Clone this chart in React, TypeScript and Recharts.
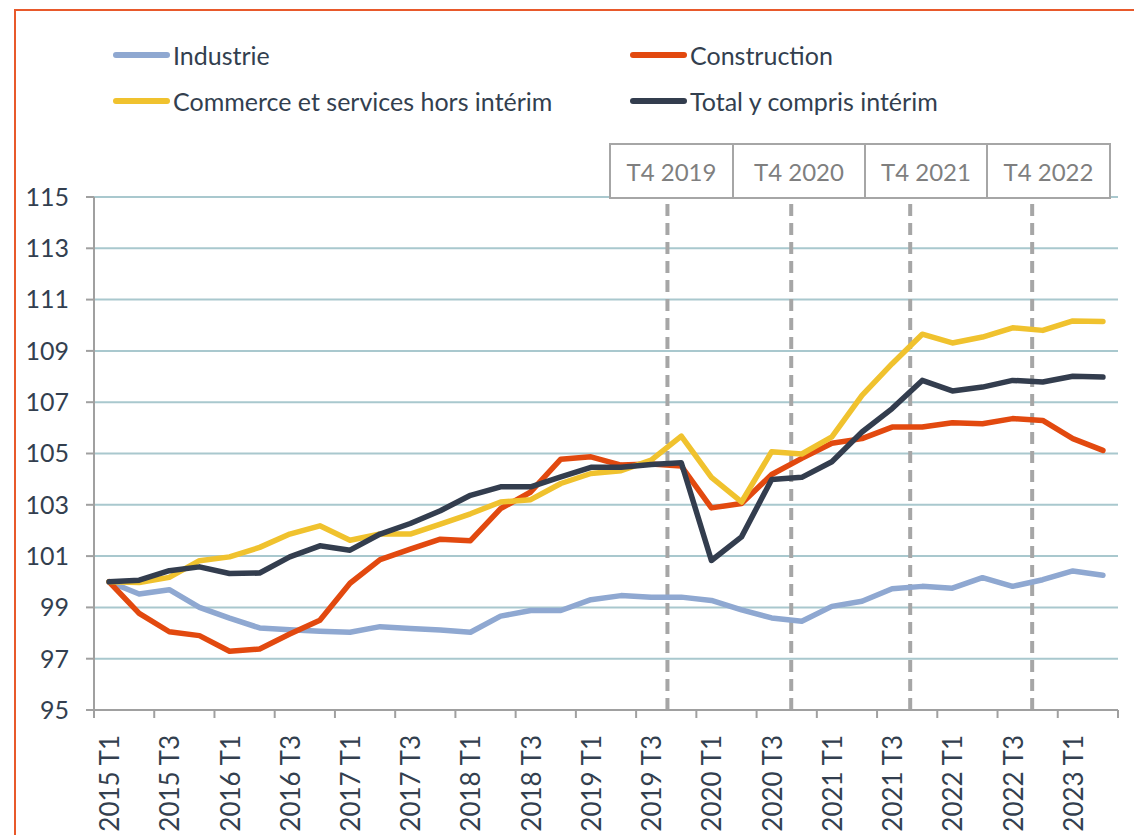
import React from 'react';
import { LineChart, Line, XAxis, YAxis, CartesianGrid, ReferenceLine, Legend } from 'recharts';

const quarters = [
  '2015 T1', '2015 T2', '2015 T3', '2015 T4',
  '2016 T1', '2016 T2', '2016 T3', '2016 T4',
  '2017 T1', '2017 T2', '2017 T3', '2017 T4',
  '2018 T1', '2018 T2', '2018 T3', '2018 T4',
  '2019 T1', '2019 T2', '2019 T3', '2019 T4',
  '2020 T1', '2020 T2', '2020 T3', '2020 T4',
  '2021 T1', '2021 T2', '2021 T3', '2021 T4',
  '2022 T1', '2022 T2', '2022 T3', '2022 T4',
  '2023 T1', '2023 T2',
];

const industrie = [
  100.0, 99.52, 99.69, 99.0, 98.58, 98.2, 98.13, 98.07, 98.03, 98.25, 98.18, 98.12,
  98.03, 98.66, 98.88, 98.88, 99.3, 99.46, 99.4, 99.4, 99.27, 98.9, 98.59, 98.46,
  99.04, 99.24, 99.73, 99.82, 99.75, 100.16, 99.82, 100.08, 100.42, 100.25,
];
const construction = [
  100.0, 98.77, 98.05, 97.9, 97.29, 97.38, 97.96, 98.5, 99.94, 100.86, 101.27, 101.66,
  101.6, 102.85, 103.5, 104.78, 104.87, 104.55, 104.59, 104.51, 102.88, 103.05, 104.18, 104.81,
  105.4, 105.58, 106.03, 106.03, 106.2, 106.16, 106.36, 106.29, 105.58, 105.12,
];
const commerce = [
  100.0, 99.97, 100.17, 100.82, 100.97, 101.34, 101.86, 102.18, 101.62, 101.86, 101.86, 102.25,
  102.65, 103.11, 103.2, 103.83, 104.22, 104.33, 104.74, 105.68, 104.07, 103.11, 105.07, 104.98,
  105.65, 107.27, 108.5, 109.65, 109.31, 109.54, 109.9, 109.8, 110.17, 110.15,
];
const total = [
  100.0, 100.06, 100.43, 100.58, 100.32, 100.34, 100.97, 101.4, 101.23, 101.86, 102.27, 102.77,
  103.37, 103.7, 103.7, 104.09, 104.46, 104.46, 104.57, 104.64, 100.83, 101.75, 103.99, 104.07,
  104.68, 105.84, 106.75, 107.85, 107.44, 107.59, 107.85, 107.79, 108.01, 107.98,
];

const yTicks = [95, 97, 99, 101, 103, 105, 107, 109, 111, 113, 115];

// dashed period markers (position on the quarter index scale) and their boxed labels
const markers = [18.54, 22.65, 26.6, 30.65];
const markerLabels = ['T4 2019', 'T4 2020', 'T4 2021', 'T4 2022'];

const series = [
  { key: 'industrie', name: 'Industrie', color: '#8FA8D1' },
  { key: 'construction', name: 'Construction', color: '#E2490F' },
  { key: 'commerce', name: 'Commerce et services hors intérim', color: '#F0C22E' },
  { key: 'total', name: 'Total y compris intérim', color: '#333D4E' },
];

const data = quarters.map((q, i) => ({
  i,
  q,
  industrie: industrie[i],
  construction: construction[i],
  commerce: commerce[i],
  total: total[i],
}));

// boundaries between quarters, every second one
const xTicks = Array.from({ length: quarters.length / 2 + 1 }, (_, k) => k * 2 - 0.5);

const W = 1134;
const H = 835;
const PLOT_LEFT = 94;
const PLOT_RIGHT = 16;
const LEGEND_H = 130;
const BAND = (W - PLOT_LEFT - PLOT_RIGHT) / quarters.length;
const FONT = 'Lato, "Open Sans", sans-serif';
const TEXT = '#333F4F';

const XTick = (props: any) => {
  const { x, y, payload } = props;
  const idx = payload.value + 0.5;
  if (idx % 2 !== 0 || idx >= quarters.length) return null;
  const cx = x + BAND / 2;
  return (
    <text
      x={cx}
      y={y}
      transform={`rotate(-90 ${cx} ${y})`}
      textAnchor="end"
      dominantBaseline="central"
      fill={TEXT}
      fontSize={26}
      fontFamily={FONT}
    >
      {quarters[idx]}
    </text>
  );
};

const LegendContent = () => {
  const pos = [
    { left: 113, top: 55 },
    { left: 630, top: 55 },
    { left: 113, top: 101 },
    { left: 630, top: 101 },
  ];
  return (
    <div style={{ position: 'relative', width: W, height: LEGEND_H }}>
      {series.map((s, k) => (
        <div
          key={s.key}
          style={{
            position: 'absolute',
            left: pos[k].left,
            top: pos[k].top - 16,
            height: 32,
            display: 'flex',
            alignItems: 'center',
            fontFamily: FONT,
            fontSize: 25,
            color: TEXT,
            whiteSpace: 'nowrap',
          }}
        >
          <span
            style={{
              display: 'inline-block',
              width: 57,
              height: 6,
              borderRadius: 3,
              background: s.color,
              marginRight: 3,
            }}
          />
          {s.name}
        </div>
      ))}
    </div>
  );
};

const boxEdges = [609, 734, 866, 988, 1111];

export default function App() {
  return (
    <div style={{ position: 'absolute', left: 0, top: 0, width: W, height: H, background: '#fff', overflow: 'hidden' }}>
      <div
        style={{
          position: 'absolute',
          left: 14,
          top: 9,
          width: W,
          height: H,
          borderLeft: '2px solid #E8592B',
          borderTop: '2px solid #E8592B',
        }}
      />
      <LineChart width={W} height={H} data={data} margin={{ top: 197 - LEGEND_H, right: PLOT_RIGHT, bottom: 0, left: 0 }}>
        <CartesianGrid vertical={false} stroke="#A9C8CE" strokeWidth={2} />
        <XAxis
          dataKey="i"
          type="number"
          domain={[-0.5, quarters.length - 0.5]}
          ticks={xTicks}
          interval={0}
          height={125}
          tick={<XTick />}
          tickSize={8}
          tickMargin={17}
          stroke="#A0A0A0"
          strokeWidth={2}
          allowDecimals
        />
        <YAxis
          domain={[95, 115]}
          ticks={yTicks}
          interval={0}
          width={PLOT_LEFT}
          tickSize={8}
          tickMargin={17}
          stroke="#A0A0A0"
          strokeWidth={2}
          tick={{ fill: TEXT, fontSize: 25, fontFamily: FONT }}
        />
        {markers.map((m) => (
          <ReferenceLine key={m} x={m} stroke="#A6A6A6" strokeWidth={4} strokeDasharray="12 7" />
        ))}
        {series.map((s) => (
          <Line
            key={s.key}
            type="linear"
            dataKey={s.key}
            name={s.name}
            stroke={s.color}
            strokeWidth={5.5}
            strokeLinecap="round"
            strokeLinejoin="round"
            dot={false}
            activeDot={false}
            isAnimationActive={false}
          />
        ))}
        <Legend
          verticalAlign="top"
          content={<LegendContent />}
          wrapperStyle={{ position: 'absolute', top: 0, left: 0, width: W, height: LEGEND_H }}
        />
      </LineChart>
      {markerLabels.map((label, k) => (
        <div
          key={label}
          style={{
            position: 'absolute',
            left: boxEdges[k],
            top: 143,
            width: boxEdges[k + 1] - boxEdges[k],
            height: 56,
            boxSizing: 'border-box',
            border: '2px solid #A6A6A6',
            borderLeftWidth: k === 0 ? 2 : 0,
            display: 'flex',
            alignItems: 'center',
            justifyContent: 'center',
            fontFamily: FONT,
            fontSize: 24,
            color: '#7F7F7F',
            background: '#fff',
          }}
        >
          {label}
        </div>
      ))}
    </div>
  );
}
